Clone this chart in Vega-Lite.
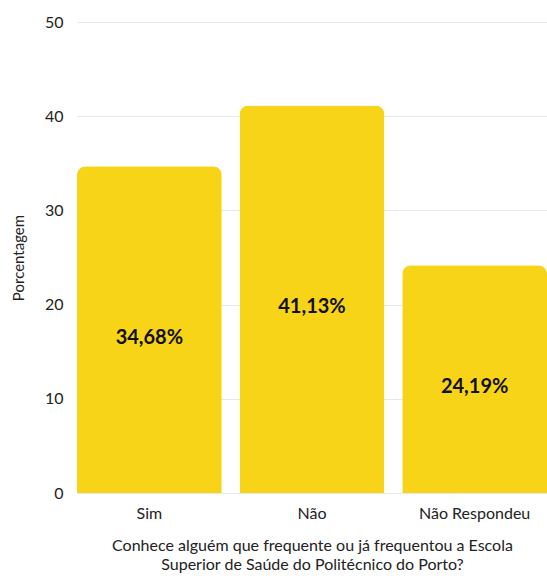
{
  "$schema": "https://vega.github.io/schema/vega-lite/v6.json",
  "width": 470,
  "height": 471,
  "autosize": {"type": "none"},
  "padding": {"left": 77, "top": 22, "right": 0, "bottom": 83},
  "background": "white",
  "config": {"view": {"stroke": null}, "font": "Lato"},
  "data": {"values": [
    {"resposta": "Sim", "pct": 34.68, "label": "34,68%"},
    {"resposta": "Não", "pct": 41.13, "label": "41,13%"},
    {"resposta": "Não Respondeu", "pct": 24.19, "label": "24,19%"}
  ]},
  "encoding": {
    "x": {"field": "resposta", "type": "nominal", "sort": null,
      "scale": {"paddingInner": 0.11, "paddingOuter": 0},
      "axis": {"title": ["Conhece alguém que frequente ou já frequentou a Escola", "Superior de Saúde do Politécnico do Porto?"],
        "labelAngle": 0, "labelFontSize": 16, "labelColor": "#222", "labelPadding": 12,
        "ticks": false, "domain": false, "titleFontSize": 16, "titleLineHeight": 19, "titleFontWeight": "normal", "titleColor": "#222", "titlePadding": 16}}
  },
  "layer": [
    {"mark": {"type": "bar", "color": "#F7D417", "cornerRadiusTopLeft": 9, "cornerRadiusTopRight": 9},
     "encoding": {"y": {"field": "pct", "type": "quantitative",
       "scale": {"domain": [0, 50], "nice": false},
       "axis": {"title": "Porcentagem", "values": [0, 10, 20, 30, 40, 50], "labelOverlap": false, "domain": false, "ticks": false,
         "labelFontSize": 16, "labelColor": "#222", "labelPadding": 14, "gridColor": "#e8e8e8",
         "titleFontSize": 15, "titleFontWeight": "normal", "titleColor": "#222", "titlePadding": 18}}}},
    {"transform": [{"calculate": "datum.pct / 2", "as": "mid"}],
     "mark": {"type": "text", "fontSize": 20, "fontWeight": "bold", "color": "#111", "dy": 8},
     "encoding": {"y": {"field": "mid", "type": "quantitative", "axis": null},
       "text": {"field": "label"}}}
  ],
  "resolve": {"axis": {"y": "independent"}}
}
